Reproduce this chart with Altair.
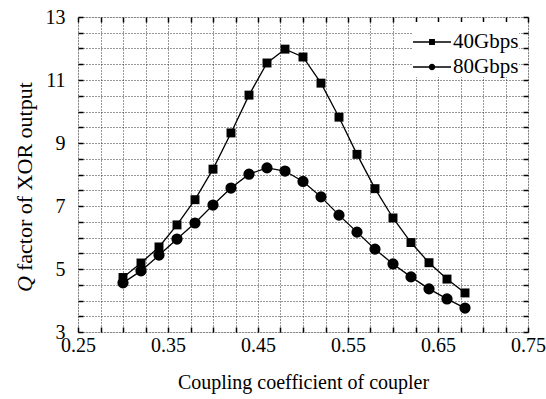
import altair as alt
import pandas as pd

coupling = [0.30, 0.32, 0.34, 0.36, 0.38, 0.40, 0.42, 0.44, 0.46, 0.48,
            0.50, 0.52, 0.54, 0.56, 0.58, 0.60, 0.62, 0.64, 0.66, 0.68]
q_40 = [4.73, 5.19, 5.70, 6.40, 7.20, 8.17, 9.32, 10.52, 11.54, 11.98,
        11.73, 10.90, 9.82, 8.64, 7.55, 6.62, 5.84, 5.20, 4.68, 4.24]
q_80 = [4.56, 4.94, 5.44, 5.95, 6.46, 7.03, 7.57, 8.01, 8.21, 8.11,
        7.78, 7.29, 6.71, 6.17, 5.63, 5.16, 4.75, 4.37, 4.05, 3.76]
series_names = ["40Gbps", "80Gbps"]
x_ticks = [round(0.25 + 0.025 * i, 3) for i in range(21)]
y_ticks = [3 + 0.5 * i for i in range(21)]
y_title_parts = ["Q", "factor of XOR output"]
x_title = "Coupling coefficient of coupler"

df40 = pd.DataFrame({"x": coupling, "q": q_40, "series": series_names[0]})
df80 = pd.DataFrame({"x": coupling, "q": q_80, "series": series_names[1]})
df = pd.concat([df40, df80], ignore_index=True)

FONT = "Liberation Serif"
xscale = alt.Scale(domain=[0.25, 0.75], nice=False, zero=False)
yscale = alt.Scale(domain=[3, 13], nice=False, zero=False)

x_label_expr = "(round(datum.value*1000) - 250) % 100 == 0 ? format(datum.value, '.2f') : ''"
y_label_expr = "(round(datum.value*10) - 30) % 20 == 0 ? format(datum.value, 'd') : ''"

TICK = 5
x_axis = alt.Axis(values=x_ticks, labelExpr=x_label_expr, title=x_title,
                  grid=False, offset=-TICK,
                  tickSize=TICK, tickColor="black", tickWidth=1.5, labelPadding=TICK - 2,
                  labelFont=FONT, labelFontSize=20, labelColor="black",
                  titleFont=FONT, titleFontSize=20, titleFontWeight="normal",
                  titleColor="black", titlePadding=17, domain=False,
                  labelFlush=False, labelOverlap=False)
y_axis = alt.Axis(values=y_ticks, labelExpr=y_label_expr, title=None,
                  grid=False, offset=-TICK,
                  tickSize=TICK, tickColor="black", tickWidth=1.5, labelPadding=TICK + 8,
                  labelFont=FONT, labelFontSize=20, labelColor="black",
                  domain=False, labelFlush=False, labelOverlap=False)
top_axis = alt.Axis(orient="top", values=x_ticks, labels=False, title=None,
                    grid=True, gridDash=[1, 2], gridColor="#333", gridWidth=1,
                    offset=-TICK, tickSize=TICK, tickColor="black", tickWidth=1.5,
                    domain=False)
right_axis = alt.Axis(orient="right", values=y_ticks, labels=False, title=None,
                      grid=True, gridDash=[1, 2], gridColor="#333", gridWidth=1,
                      offset=-TICK, tickSize=TICK, tickColor="black", tickWidth=1.5,
                      domain=False)

sq_path = "M-1,0H1M-0.12,-0.12H0.12V0.12H-0.12Z"
ci_path = "M-1,0H1M0.135,0A0.135,0.135 0 1,1 -0.135,0A0.135,0.135 0 1,1 0.135,0Z"


def make_legend(path, ly, z):
    return alt.Legend(title=None, orient="none", legendX=334, legendY=ly,
                      labelFont=FONT, labelFontSize=21, labelColor="black",
                      symbolType=path, symbolSize=1444, symbolStrokeColor="black",
                      symbolStrokeWidth=1.3, symbolFillColor="black", labelOffset=1,
                      fillColor="white", padding=0, zindex=z)


mirror = alt.Chart(df).mark_point(opacity=0).encode(
    x=alt.X("x:Q", scale=xscale, axis=top_axis),
    y=alt.Y("q:Q", scale=yscale, axis=right_axis),
)
lines = alt.Chart(df).mark_line(color="black", strokeWidth=1.3).encode(
    x=alt.X("x:Q", scale=xscale, axis=x_axis),
    y=alt.Y("q:Q", scale=yscale, axis=y_axis),
    detail="series:N",
)
pts40 = alt.Chart(df40).mark_point(filled=True, shape="square", size=80, opacity=1).encode(
    x=alt.X("x:Q", scale=xscale, axis=None),
    y=alt.Y("q:Q", scale=yscale, axis=None),
    fill=alt.Fill("series:N", scale=alt.Scale(domain=[series_names[0]], range=["black"]),
                  legend=make_legend(sq_path, 5, 3)),
)
pts80 = alt.Chart(df80).mark_point(filled=True, shape="circle", size=85, opacity=1).encode(
    x=alt.X("x:Q", scale=xscale, axis=None),
    y=alt.Y("q:Q", scale=yscale, axis=None),
    stroke=alt.Stroke("series:N", scale=alt.Scale(domain=[series_names[1]], range=["black"]),
                      legend=make_legend(ci_path, 30, 1)),
    fill=alt.value("black"),
)

tdf = pd.DataFrame({"t": y_title_parts, "style": ["italic", "normal"]})
title_q = alt.Chart(tdf).transform_filter("datum.style === 'italic'").mark_text(
    angle=270, align="left", baseline="middle", font=FONT, fontSize=22,
    fontStyle="italic", color="black").encode(
    text="t:N", x=alt.value(-53), y=alt.value(275))
title_rest = alt.Chart(tdf).transform_filter("datum.style === 'normal'").mark_text(
    angle=270, align="left", baseline="middle", font=FONT, fontSize=22,
    color="black").encode(
    text="t:N", x=alt.value(-53), y=alt.value(254))

chart = alt.layer(mirror, lines, pts40, pts80, title_q, title_rest).resolve_axis(
    x="independent", y="independent"
).resolve_scale(fill="independent", stroke="independent").resolve_legend(
    fill="independent", stroke="independent"
).properties(
    width=450, height=315,
    padding={"left": 78, "top": 17, "right": 18, "bottom": 67},
    autosize=alt.AutoSizeParams(type="none"),
).configure_view(stroke="black", strokeWidth=2).configure_legend(
    labelFont=FONT
).configure(background="white", font=FONT)

chart.save("out.html", embed_options={"renderer": "svg", "actions": False})
